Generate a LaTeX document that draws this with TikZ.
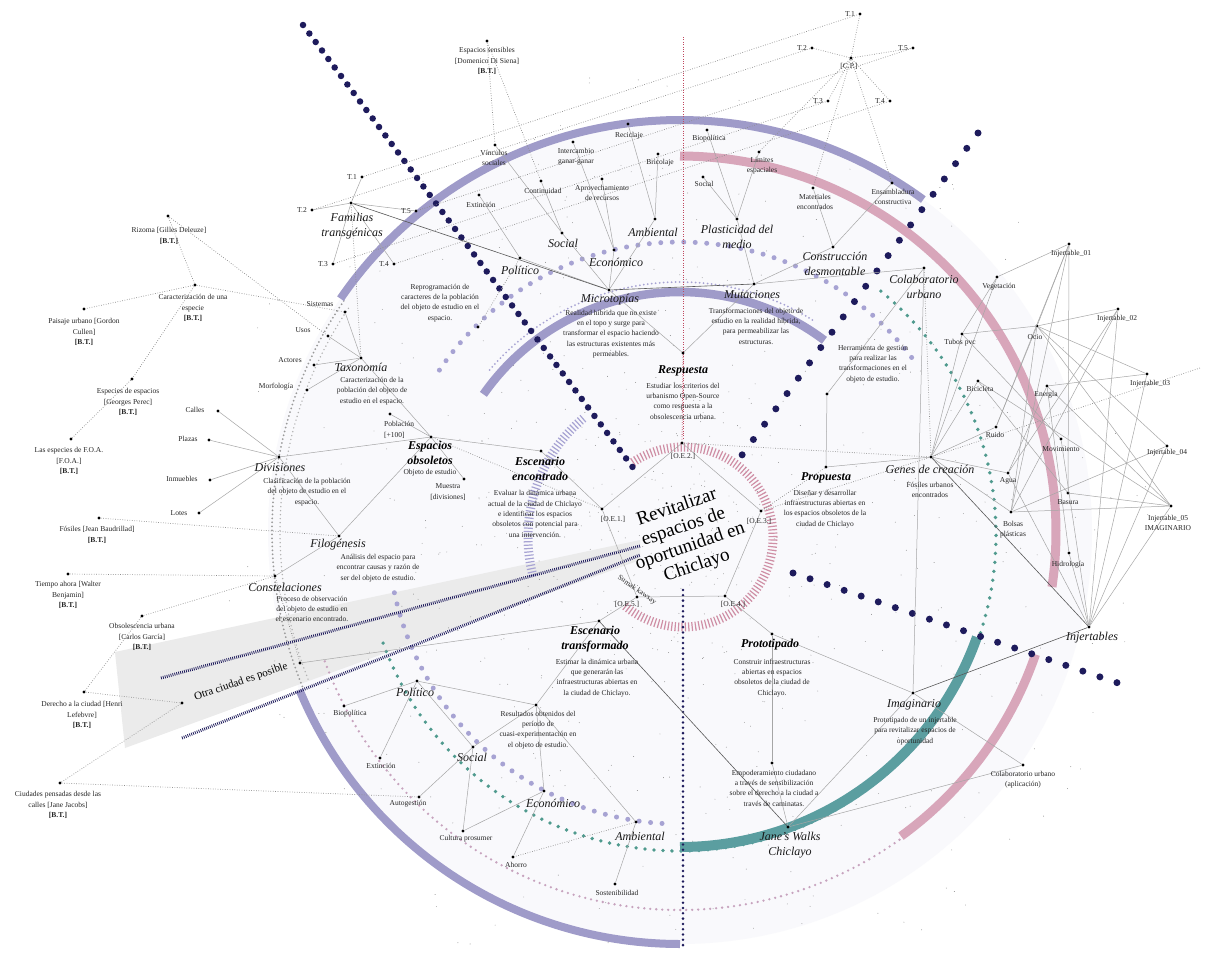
\documentclass[tikz,border=0pt]{standalone}
\usepackage{fontspec}
\setmainfont{Liberation Serif}
\definecolor{navy}{HTML}{1E1B5C}
\definecolor{lav}{HTML}{9F9BC9}
\definecolor{lavd}{HTML}{A7A3D3}
\definecolor{pinkc}{HTML}{D8A6BA}
\definecolor{tealc}{HTML}{5B9EA0}
\definecolor{tealdot}{HTML}{4F9A8E}
\definecolor{redd}{HTML}{C0485F}
\definecolor{hatchp}{HTML}{CF8FA5}
\newcommand{\myarc}[6]{\draw[#1, domain=#5:#6, samples=160, variable=\t] plot ({#2+#4*cos(\t)},{#3-#4*sin(\t)});}
\tikzset{
 pnt/.style={circle,fill=black,inner sep=0pt,minimum size=3.2pt},
 lbl/.style={font=\fontsize{7.5}{10.3}\selectfont, align=center, inner sep=0pt, text=black!85},
 hub/.style={font=\fontsize{12}{14.5}\selectfont\itshape, align=center, inner sep=0pt, text=black!90},
 key/.style={font=\fontsize{12}{14.5}\selectfont\bfseries\itshape, align=center, inner sep=0pt},
 gl/.style={draw=black!35, line width=0.5pt},
 gdk/.style={draw=black!65, line width=0.6pt},
 gd/.style={draw=black!45, line width=0.7pt, dash pattern=on 0.7pt off 1.7pt},
 rdot/.style={draw=redd, line width=0.8pt, dash pattern=on 0.8pt off 1.6pt},
 bigdots/.style={navy, line cap=round, dash pattern=on 0pt off #1},
}
\begin{document}
\begin{tikzpicture}[x=1pt,y=-1pt]
\useasboundingbox (0,0) rectangle (1206,954);
\fill[white] (0,0) rectangle (1206,954);
% ---------- background ----------
\fill[lav!6] (680,532) circle (412pt);
\fill[black!8] (115,652) -- (640,540) -- (640,560) -- (125,748) -- cycle;
\pgfmathsetseed{11}
\foreach \i in {1,...,650}{
  \pgfmathsetmacro{\ang}{rnd*360}
  \pgfmathsetmacro{\rad}{30+rnd*440}
  \fill[black!45] ({680+\rad*cos(\ang)},{532-\rad*sin(\ang)}) circle (0.45pt);
}
% ---------- hatched rings ----------
\myarc{hatchp, line width=9pt, dash pattern=on 1.2pt off 2.2pt}{683}{537}{90}{-130}{125}
\myarc{lavd, line width=9pt, dash pattern=on 1.2pt off 2.2pt}{683}{537}{155}{130}{195}
% ---------- dotted arcs ----------
\myarc{black!40, line width=2pt, line cap=round, dash pattern=on 0pt off 4pt}{680}{532}{408}{145.5}{202.6}
\myarc{black!30, line width=1.6pt, line cap=round, dash pattern=on 0pt off 4pt}{680}{532}{400}{146}{202}
\myarc{lavd, line width=2pt, line cap=round, dash pattern=on 0pt off 4pt}{680}{532}{250}{58}{140}
\myarc{lavd, line width=5pt, line cap=round, dash pattern=on 0pt off 11.5pt}{680}{532}{290}{37}{148}
\myarc{lavd, line width=5pt, line cap=round, dash pattern=on 0pt off 11.5pt}{680}{532}{292}{192}{268}
\myarc{tealdot, line width=3.8pt, line cap=round, dash pattern=on 0pt off 9pt}{680}{535}{316}{-160}{52}
\myarc{pinkc!70!lav, line width=2.6pt, line cap=round, dash pattern=on 0pt off 6pt}{680}{532}{378}{200}{306}
% ---------- thick arcs ----------
\myarc{lav, line width=8pt}{680}{532}{412}{53.8}{145.5}
\myarc{lav, line width=8pt}{680}{532}{412}{202.6}{270}
\myarc{pinkc, line width=9pt}{680}{532}{376}{-8.4}{90}
\myarc{pinkc, line width=9pt}{680}{532}{376}{-54}{-19}
\myarc{tealc, line width=10pt}{680}{532}{315}{-90}{-19.5}
\myarc{lav, line width=8.5pt}{680}{532}{240}{53}{145}
% ---------- vertical axis ----------
\draw[rdot] (683,37) -- (683,440);
\draw[navy, line width=2.8pt, line cap=round, dash pattern=on 0pt off 5.3pt] (683,590) -- (683,950);
% ---------- navy dotted diagonals ----------
\draw[bigdots=10.6pt, line width=6.5pt] (303,25) -- (637,473);
\draw[bigdots=19pt, line width=7pt] (978,133) -- (742,455);
\draw[bigdots=18pt, line width=7pt] (793,573) -- (1118,683);
% ---------- otra ciudad beam lines ----------
\draw[navy, line width=3pt, dash pattern=on 0.8pt off 1.2pt] (161,678) -- (640,546);
\draw[navy, line width=3pt, dash pattern=on 0.8pt off 1.2pt] (182,738) -- (640,555);
% ---------- points ----------
\node[pnt] (ft) at (351,203) {};
\node[pnt] (lt1) at (362,177) {};
\node[pnt] (lt2) at (312,210) {};
\node[pnt] (lt3) at (333,264) {};
\node[pnt] (lt4) at (394,264) {};
\node[pnt] (lt5) at (416,211) {};
\node[pnt] (cp) at (851,58) {};
\node[pnt] (rt1) at (860,14) {};
\node[pnt] (rt2) at (812,48) {};
\node[pnt] (rt3) at (828,101) {};
\node[pnt] (rt4) at (890,101) {};
\node[pnt] (rt5) at (913,48) {};
\node[pnt] (es) at (487,41) {};
\node[pnt] (vin) at (495,145) {};
\node[pnt] (inter) at (573,142) {};
\node[pnt] (reci) at (628,124) {};
\node[pnt] (brico) at (658,154) {};
\node[pnt] (cont) at (541,181) {};
\node[pnt] (apro) at (602,179) {};
\node[pnt] (ext1) at (479,195) {};
\node[pnt] (soc1) at (562,233) {};
\node[pnt] (amb1) at (655,219) {};
\node[pnt] (eco1) at (614,250) {};
\node[pnt] (pol1) at (520,258) {};
\node[pnt] (micro) at (609,290) {};
\node[pnt] (repr) at (478,327) {};
\node[pnt] (bio1) at (707,130) {};
\node[pnt] (lim) at (759,152) {};
\node[pnt] (soc2) at (703,177) {};
\node[pnt] (plast) at (737,219) {};
\node[pnt] (mat) at (813,188) {};
\node[pnt] (cons) at (833,247) {};
\node[pnt] (ens) at (892,183) {};
\node[pnt] (mut) at (754,284) {};
\node[pnt] (resp) at (683,353) {};
\node[pnt] (colab) at (924,268) {};
\node[pnt] (herr) at (827,394) {};
\node[pnt] (riz) at (168,216) {};
\node[pnt] (car) at (195,285) {};
\node[pnt] (pai) at (84,309) {};
\node[pnt] (espp) at (132,379) {};
\node[pnt] (foa) at (71,439) {};
\node[pnt] (sis) at (345,312) {};
\node[pnt] (usos) at (328,336) {};
\node[pnt] (act) at (314,365) {};
\node[pnt] (mor) at (307,390) {};
\node[pnt] (tax) at (361,358) {};
\node[pnt] (calles) at (218,411) {};
\node[pnt] (plazas) at (209,440) {};
\node[pnt] (inm) at (210,480) {};
\node[pnt] (lotes) at (199,513) {};
\node[pnt] (div) at (279,457) {};
\node[pnt] (pob) at (390,414) {};
\node[pnt] (eo) at (431,437) {};
\node[pnt] (mue) at (464,479) {};
\node[pnt] (fil) at (339,536) {};
\node[pnt] (cst) at (275,576) {};
\node[pnt] (fos) at (99,518) {};
\node[pnt] (tie) at (68,574) {};
\node[pnt] (obs) at (142,616) {};
\node[pnt] (der) at (84,692) {};
\node[pnt] (ciu) at (60,783) {};
\node[pnt] (otra) at (182,703) {};
\node[pnt] (otr2) at (300,663) {};
\node[pnt] (ee) at (541,451) {};
\node[pnt] (oe1) at (602,509) {};
\node[pnt] (oe2) at (682,443) {};
\node[pnt] (oe3) at (761,511) {};
\node[pnt] (oe4) at (725,596) {};
\node[pnt] (oe5) at (637,597) {};
\node[pnt] (prop) at (826,467) {};
\node[pnt] (genes) at (931,457) {};
\node[pnt] (tub) at (962,334) {};
\node[pnt] (veg) at (997,277) {};
\node[pnt] (ocio) at (1037,326) {};
\node[pnt] (bici) at (978,381) {};
\node[pnt] (ener) at (1047,386) {};
\node[pnt] (ruido) at (996,427) {};
\node[pnt] (mov) at (1061,439) {};
\node[pnt] (agua) at (1008,473) {};
\node[pnt] (bas) at (1068,493) {};
\node[pnt] (bol) at (1011,512) {};
\node[pnt] (hid) at (1069,553) {};
\node[pnt] (i1) at (1069,244) {};
\node[pnt] (i2) at (1118,309) {};
\node[pnt] (i3) at (1147,374) {};
\node[pnt] (i4) at (1167,446) {};
\node[pnt] (i5) at (1171,506) {};
\node[pnt] (injs) at (1089,627) {};
\node[pnt] (imag) at (913,693) {};
\node[pnt] (proto) at (772,634) {};
\node[pnt] (emp) at (772,763) {};
\node[pnt] (jane) at (788,827) {};
\node[pnt] (colap) at (1023,765) {};
\node[pnt] (et) at (599,621) {};
\node[pnt] (res) at (536,705) {};
\node[pnt] (pol2) at (417,681) {};
\node[pnt] (bio2) at (344,706) {};
\node[pnt] (ext2) at (380,758) {};
\node[pnt] (auto) at (419,797) {};
\node[pnt] (soc3) at (473,747) {};
\node[pnt] (cul) at (463,831) {};
\node[pnt] (eco2) at (544,791) {};
\node[pnt] (aho) at (513,857) {};
\node[pnt] (amb2) at (636,822) {};
\node[pnt] (sos) at (615,884) {};
\coordinate (gend) at (1200,368);
% ---------- connectors ----------
\foreach \a/\b in {ft/lt1,ft/lt2,ft/lt3,ft/lt4,ft/lt5,
  pol1/ext1,soc1/vin,soc1/cont,eco1/inter,eco1/apro,amb1/reci,amb1/brico,
  pol1/micro,soc1/micro,eco1/micro,amb1/micro,micro/resp,mut/resp,
  plast/bio1,plast/lim,plast/soc2,plast/mut,cons/mat,cons/ens,cons/mut,
  mut/colab,colab/herr,herr/prop,prop/genes,
  tax/sis,tax/usos,tax/act,tax/mor,tax/eo,
  div/calles,div/plazas,div/inm,div/lotes,div/eo,div/fil,eo/fil,eo/pob,eo/mue,eo/ee,
  cst/fil,ee/oe1,
  oe5/oe4,oe4/proto,proto/emp,emp/jane,jane/imag,imag/colap,jane/colap,proto/imag,imag/colab,
  et/oe5,otr2/et,res/et,res/pol2,res/soc3,res/eco2,res/amb2,
  pol2/bio2,pol2/ext2,pol2/soc3,soc3/auto,soc3/cul,eco2/aho,eco2/cul,amb2/sos,
  oe1/oe2,oe2/oe3,oe3/oe4,oe5/oe1,
  genes/tub,genes/bici,genes/ruido,genes/agua,genes/bol,genes/veg,
  tub/ocio,tub/veg,veg/i1,i1/bas,i1/bol,i1/ocio,i2/ocio,i2/agua,i2/bol,i2/injs,
  i3/ocio,i3/ener,i3/injs,i4/bol,i4/injs,i4/ocio,i5/ocio,i5/ener,i5/bas,i5/bol,i5/bici,i5/injs,
  injs/hid,injs/mov,injs/agua,bici/bas,ruido/ocio,ocio/bol,tub/mov,ener/agua,hid/ener,i1/ruido}
  {\draw[gl] (\a) -- (\b);}
\foreach \a/\b in {ft/micro,genes/injs,imag/injs,micro/mut,et/jane}
  {\draw[gdk] (\a) -- (\b);}
\foreach \a/\b in {lt1/rt1,lt2/rt2,lt3/rt3,lt4/rt4,lt5/rt5,
  cp/rt1,cp/rt2,cp/rt3,cp/rt4,cp/rt5,cp/mat,cp/ens,cp/lim,
  es/cont,es/vin,pol1/repr,ft/tax,
  riz/usos,car/riz,car/pai,car/espp,espp/foa,car/sis,
  fos/fil,tie/cst,obs/cst,obs/der,der/otra,ciu/otra,ciu/auto,
  eo/oe1,prop/oe3,colab/genes,genes/oe2,genes/oe3,genes/gend,amb2/aho,cst/otr2}
  {\draw[gd] (\a) -- (\b);}
\draw[rdot] (resp) -- (oe2);
% ---------- labels ----------
\node[hub] (l-ft) at (352,226) {Familias\\transgénicas};
\node[lbl, anchor=east] (l-lt1) at (357,177) {T.1};
\node[lbl, anchor=east] (l-lt2) at (307,210) {T.2};
\node[lbl, anchor=east] (l-lt3) at (328,264) {T.3};
\node[lbl, anchor=east] (l-lt4) at (389,264) {T.4};
\node[lbl, anchor=east] (l-lt5) at (411,211) {T.5};
\node[lbl] (l-cp) at (849,66) {[C.P.]};
\node[lbl, anchor=east] (l-rt1) at (855,14) {T.1};
\node[lbl, anchor=east] (l-rt2) at (807,48) {T.2};
\node[lbl, anchor=east] (l-rt3) at (823,101) {T.3};
\node[lbl, anchor=east] (l-rt4) at (885,101) {T.4};
\node[lbl, anchor=east] (l-rt5) at (908,48) {T.5};
\node[lbl] (l-es) at (487,61) {Espacios sensibles\\{}[Domenico Di Siena]\\\textbf{[B.T.]}};
\node[lbl] (l-vin) at (494,158) {Vínculos\\sociales};
\node[lbl] (l-inter) at (576,157) {Intercambio\\ganar-ganar};
\node[lbl] (l-reci) at (629,136) {Reciclaje};
\node[lbl] (l-brico) at (660,163) {Bricolaje};
\node[lbl] (l-cont) at (543,191) {Continuidad};
\node[lbl] (l-apro) at (602,193) {Aprovechamiento\\de recursos};
\node[lbl] (l-ext1) at (481,205) {Extinción};
\node[hub] (l-soc1) at (563,243) {Social};
\node[hub] (l-amb1) at (653,232) {Ambiental};
\node[hub] (l-eco1) at (616,262) {Económico};
\node[hub] (l-pol1) at (520,270) {Político};
\node[hub] (l-micro) at (610,300) {Microtopías};
\node[lbl] (d-micro) at (611,334) {Realidad híbrida que no existe\\en el topo y surge para\\transformar el espacio haciendo\\las estructuras existentes más\\permeables.};
\node[lbl] (l-repr) at (440,303) {Reprogramación de\\caracteres de la población\\del objeto de estudio en el\\espacio.};
\node[lbl] (l-bio1) at (709,139) {Biopolítica};
\node[lbl] (l-lim) at (762,166) {Límites\\espaciales};
\node[lbl] (l-soc2) at (704,184) {Social};
\node[hub] (l-plast) at (737,237) {Plasticidad del\\medio};
\node[lbl] (l-mat) at (815,202) {Materiales\\encontrados};
\node[hub] (l-cons) at (835,264) {Construcción\\desmontable};
\node[lbl] (l-ens) at (893,197) {Ensambladura\\constructiva};
\node[hub] (l-mut) at (752,295) {Mutaciones};
\node[lbl] (d-mut) at (756,326) {Transformaciones del objeto de\\estudio en la realidad híbrida,\\para permeabilizar las\\estructuras.};
\node[key] (l-resp) at (683,371) {Respuesta};
\node[lbl] (d-resp) at (683,401) {Estudiar los criterios del\\urbanismo Open-Source\\como respuesta a la\\obsolescencia urbana.};
\node[hub] (l-colab) at (924,287) {Colaboratorio\\urbano};
\node[lbl] (l-herr) at (873,364) {Herramienta de gestión\\para realizar las\\transformaciones en el\\objeto de estudio.};
\node[lbl] (l-riz) at (169,236) {Rizoma [Gilles Deleuze]\\\textbf{[B.T.]}};
\node[lbl] (l-car) at (193,308) {Caracterización de una\\especie\\\textbf{[B.T.]}};
\node[lbl] (l-pai) at (84,332) {Paisaje urbano [Gordon\\Cullen]\\\textbf{[B.T.]}};
\node[lbl] (l-espp) at (128,402) {Especies de espacios\\{}[Georges Perec]\\\textbf{[B.T.]}};
\node[lbl] (l-foa) at (69,461) {Las especies de F.O.A.\\{}[F.O.A.]\\\textbf{[B.T.]}};
\node[lbl] (l-sis) at (320,304) {Sistemas};
\node[lbl] (l-usos) at (303,330) {Usos};
\node[lbl] (l-act) at (290,360) {Actores};
\node[lbl] (l-mor) at (276,387) {Morfología};
\node[hub] (l-tax) at (361,367) {Taxonomía};
\node[lbl] (d-tax) at (372,391) {Caracterización de la\\población del objeto de\\estudio en el espacio.};
\node[lbl] (l-calles) at (195,410) {Calles};
\node[lbl] (l-plazas) at (188,439) {Plazas};
\node[lbl] (l-inm) at (182,479) {Inmuebles};
\node[lbl] (l-lotes) at (179,513) {Lotes};
\node[hub] (l-div) at (280,468) {Divisiones};
\node[lbl] (d-div) at (307,492) {Clasificación de la población\\del objeto de estudio en el\\espacio.};
\node[lbl, align=left, anchor=west] (l-pob) at (384,430) {Población\\{}[+100]};
\node[key] (l-eo) at (430,453) {Espacios\\obsoletos};
\node[lbl] (d-eo) at (430,473) {Objeto de estudio};
\node[lbl] (l-mue) at (448,492) {Muestra\\{}[divisiones]};
\node[hub] (l-fil) at (338,545) {Filogénesis};
\node[lbl] (d-fil) at (378,568) {Análisis del espacio para\\encontrar causas y razón de\\ser del objeto de estudio.};
\node[hub] (l-cst) at (285,587) {Constelaciones};
\node[lbl] (d-cst) at (312,609) {Proceso de observación\\del objeto de estudio en\\el escenario encontrado.};
\node[lbl] (l-fos) at (97,535) {Fósiles [Jean Baudrillad]\\\textbf{[B.T.]}};
\node[lbl] (l-tie) at (68,595) {Tiempo ahora [Walter\\Benjamin]\\\textbf{[B.T.]}};
\node[lbl] (l-obs) at (142,637) {Obsolescencia urbana\\{}[Carlos García]\\\textbf{[B.T.]}};
\node[lbl] (l-der) at (82,715) {Derecho a la ciudad [Henri\\Lefebvre]\\\textbf{[B.T.]}};
\node[lbl] (l-ciu) at (58,805) {Ciudades pensadas desde las\\calles [Jane Jacobs]\\\textbf{[B.T.]}};
\node[font=\fontsize{11}{13}\selectfont, rotate=19, inner sep=0pt] (l-otra) at (241,682) {Otra ciudad es posible};
\node[key] (l-ee) at (540,469) {Escenario\\encontrado};
\node[lbl] (d-ee) at (535,514) {Evaluar la dinámica urbana\\actual de la ciudad de Chiclayo\\e identificar los espacios\\obsoletos con potencial para\\una intervención.};
\node[lbl] (l-oe1) at (613,519) {[O.E.1.]};
\node[lbl] (l-oe2) at (683,456) {[O.E.2.]};
\node[lbl] (l-oe3) at (759,521) {[O.E.3.]};
\node[lbl] (l-oe4) at (733,604) {[O.E.4.]};
\node[lbl] (l-oe5) at (627,604) {[O.E.5.]};
\node[font=\fontsize{19}{20.5}\selectfont, align=center, rotate=19, inner sep=0pt] (title) at (687,537) {Revitalizar\\espacios de\\oportunidad en\\Chiclayo};
\node[lbl, rotate=-35] (l-sumak) at (637,590) {Sumak kawsay};
\node[key] (l-prop) at (826,478) {Propuesta};
\node[lbl] (d-prop) at (825,509) {Diseñar y desarrollar\\infraestructuras abiertas en\\los espacios obsoletos de la\\ciudad de Chiclayo};
\node[hub] (l-genes) at (930,469) {Genes de creación};
\node[lbl] (d-genes) at (930,490) {Fósiles urbanos\\encontrados};
\node[lbl] (l-tub) at (960,343) {Tubos pvc};
\node[lbl] (l-veg) at (999,287) {Vegetación};
\node[lbl] (l-ocio) at (1035,337) {Ocio};
\node[lbl] (l-bici) at (980,389) {Bicicleta};
\node[lbl] (l-ener) at (1046,395) {Energía};
\node[lbl] (l-ruido) at (995,435) {Ruido};
\node[lbl] (l-mov) at (1061,449) {Movimiento};
\node[lbl] (l-agua) at (1008,481) {Agua};
\node[lbl] (l-bas) at (1068,502) {Basura};
\node[lbl] (l-bol) at (1013,530) {Bolsas\\plásticas};
\node[lbl] (l-hid) at (1068,565) {Hidrología};
\node[lbl] (l-i1) at (1071,254) {Injertable\_01};
\node[lbl] (l-i2) at (1117,319) {Injertable\_02};
\node[lbl] (l-i3) at (1150,384) {Injertable\_03};
\node[lbl] (l-i4) at (1167,453) {Injertable\_04};
\node[lbl] (l-i5) at (1168,523) {Injertable\_05\\IMAGINARIO};
\node[hub] (l-injs) at (1092,638) {Injertables};
\node[hub] (l-imag) at (914,705) {Imaginario};
\node[lbl] (d-imag) at (915,731) {Prototipado de un injertable\\para revitalizar espacios de\\oportunidad};
\node[key] (l-proto) at (770,645) {Prototipado};
\node[lbl] (d-proto) at (772,678) {Construir infraestructuras\\abiertas en espacios\\obsoletos de la ciudad de\\Chiclayo.};
\node[lbl] (l-emp) at (774,788) {Empoderamiento ciudadano\\a través de sensibilización\\sobre el derecho a la ciudad a\\través de caminatas.};
\node[hub] (l-jane) at (790,845) {Jane's Walks\\Chiclayo};
\node[lbl] (l-colap) at (1023,780) {Colaboratorio urbano\\(aplicación)};
\node[key] (l-et) at (595,639) {Escenario\\transformado};
\node[lbl] (d-et) at (597,678) {Estimar la dinámica urbana\\que generarán las\\infraestructuras abiertas en\\la ciudad de Chiclayo.};
\node[lbl] (l-res) at (538,730) {Resultados obtenidos del\\período de\\cuasi-experimentación en\\el objeto de estudio.};
\node[hub] (l-pol2) at (415,692) {Político};
\node[lbl] (l-bio2) at (350,714) {Biopolítica};
\node[lbl] (l-ext2) at (381,766) {Extinción};
\node[lbl] (l-auto) at (408,804) {Autogestión};
\node[hub] (l-soc3) at (472,757) {Social};
\node[lbl] (l-cul) at (466,839) {Cultura prosumer};
\node[hub] (l-eco2) at (553,803) {Económico};
\node[lbl] (l-aho) at (516,865) {Ahorro};
\node[hub] (l-amb2) at (640,836) {Ambiental};
\node[lbl] (l-sos) at (617,893) {Sostenibilidad};
\end{tikzpicture}
\end{document}
